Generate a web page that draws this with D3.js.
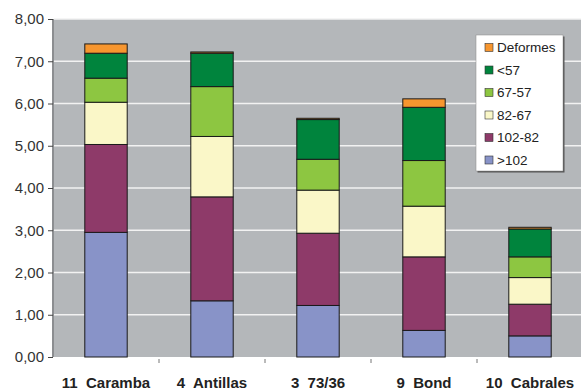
<!DOCTYPE html>
<html>
<head>
<meta charset="utf-8">
<script src="https://cdn.jsdelivr.net/npm/d3@7"></script>
<style>
  body { margin: 0; background: #fff; }
  svg text { font-family: "Liberation Sans", Arial, sans-serif; }
</style>
</head>
<body>
<div id="chart"></div>
<script>
// data
var categories = ['11  Caramba', '4  Antillas', '3  73/36', '9  Bond', '10  Cabrales'];
var seriesNames = ['>102', '102-82', '82-67', '67-57', '<57', 'Deformes'];
var gt102   = [2.95, 1.33, 1.22, 0.63, 0.50];
var s102_82 = [2.08, 2.46, 1.71, 1.74, 0.75];
var s82_67  = [1.00, 1.43, 1.02, 1.20, 0.63];
var s67_57  = [0.57, 1.18, 0.73, 1.08, 0.49];
var lt57    = [0.59, 0.79, 0.94, 1.26, 0.66];
var deformes = [0.22, 0.03, 0.03, 0.20, 0.04];
var yTicks = [0, 1, 2, 3, 4, 5, 6, 7, 8];

var colors = ['#8893c8', '#8e3a69', '#faf7c8', '#8dc641', '#00843d', '#f7962f'];

var W = 581, H = 391;
var margin = {top: 19, right: -2, bottom: 34, left: 53},
    width = W - margin.left - margin.right,
    height = H - margin.top - margin.bottom;

var svg = d3.select('#chart').
    append('svg').
    attr('width', W).
    attr('height', H);

var g = svg.append('g').
    attr('transform', 'translate(' + margin.left + ',' + margin.top + ')');

// build table for stack
var table = categories.map(function(c, i) {
    return {cat: c, '>102': gt102[i], '102-82': s102_82[i], '82-67': s82_67[i],
            '67-57': s67_57[i], '<57': lt57[i], 'Deformes': deformes[i]};
});
var stacked = d3.stack().keys(seriesNames)(table);

var x = d3.scaleBand().
    domain(categories).
    range([0, width]).
    paddingInner(0.6).
    paddingOuter(0.3);

var y = d3.scaleLinear().
    domain([0, 8]).
    range([height, 0]);

// plot background
g.append('rect').
    attr('width', width).
    attr('height', height).
    attr('fill', '#b4b7ba');

// left wall shade
g.append('line').
    attr('x1', 0).attr('x2', 0).
    attr('y1', 0).attr('y2', height).
    attr('stroke', '#8c8e91').
    attr('stroke-width', 2);

// gridlines
g.selectAll('.grid').
    data(yTicks.slice(1)).
    enter().
    append('line').
    attr('x1', 1).attr('x2', width).
    attr('y1', function(d) { return y(d); }).
    attr('y2', function(d) { return y(d); }).
    attr('stroke', '#f2f2f2').
    attr('stroke-width', 1.5);

// y axis
var yAxis = g.append('g').
    call(d3.axisLeft(y).tickValues(yTicks).tickSize(5).tickPadding(4).
         tickFormat(function(d) { return d3.format('.2f')(d).replace('.', ','); }));
yAxis.select('.domain').remove();
yAxis.selectAll('line').attr('stroke', '#444');
yAxis.selectAll('text').
    attr('font-size', 15).
    attr('fill', '#333').
    attr('font-family', '"Liberation Sans", Arial, sans-serif');

// bottom ticks at category boundaries
var step = width / categories.length;
g.selectAll('.xtick').
    data(d3.range(1, categories.length)).
    enter().
    append('line').
    attr('x1', function(d) { return d * step; }).
    attr('x2', function(d) { return d * step; }).
    attr('y1', height + 2).
    attr('y2', height + 6).
    attr('stroke', '#777');

// bars
var layers = g.selectAll('.layer').
    data(stacked).
    enter().
    append('g').
    attr('fill', function(d, i) { return colors[i]; });

layers.selectAll('rect').
    data(function(d) { return d; }).
    enter().
    append('rect').
    attr('x', function(d) { return x(d.data.cat); }).
    attr('y', function(d) { return y(d[1]); }).
    attr('width', x.bandwidth()).
    attr('height', function(d) { return y(d[0]) - y(d[1]); }).
    attr('stroke', '#1a1a1a').
    attr('stroke-width', 1);

// category labels
g.selectAll('.xlab').
    data(categories).
    enter().
    append('text').
    attr('x', function(d) { return x(d) + x.bandwidth() / 2; }).
    attr('y', height + 31).
    attr('text-anchor', 'middle').
    attr('font-size', 15).
    attr('font-weight', 'bold').
    attr('fill', '#222').
    style('white-space', 'pre').
    text(function(d) { return d; });

// legend
var lg = svg.append('g').attr('transform', 'translate(476,35)');
lg.append('rect').
    attr('x', 1.5).attr('y', 1.5).
    attr('width', 87).attr('height', 136).
    attr('fill', '#555');
lg.append('rect').
    attr('width', 87).attr('height', 136).
    attr('fill', '#fff').
    attr('stroke', '#888').
    attr('stroke-width', 0.5);

var legendOrder = seriesNames.slice().reverse();
var li = lg.selectAll('.li').
    data(legendOrder).
    enter().
    append('g').
    attr('transform', function(d, i) { return 'translate(9,' + (12 + i * 22.5) + ')'; });
li.append('rect').
    attr('x', 0).attr('y', -3.5).
    attr('width', 8).attr('height', 8).
    attr('fill', function(d) { return colors[seriesNames.indexOf(d)]; }).
    attr('stroke', '#333').
    attr('stroke-width', 0.6);
li.append('text').
    attr('x', 12).
    attr('y', 5).
    attr('font-size', 13.5).
    attr('fill', '#222').
    text(function(d) { return d; });
</script>
</body>
</html>
